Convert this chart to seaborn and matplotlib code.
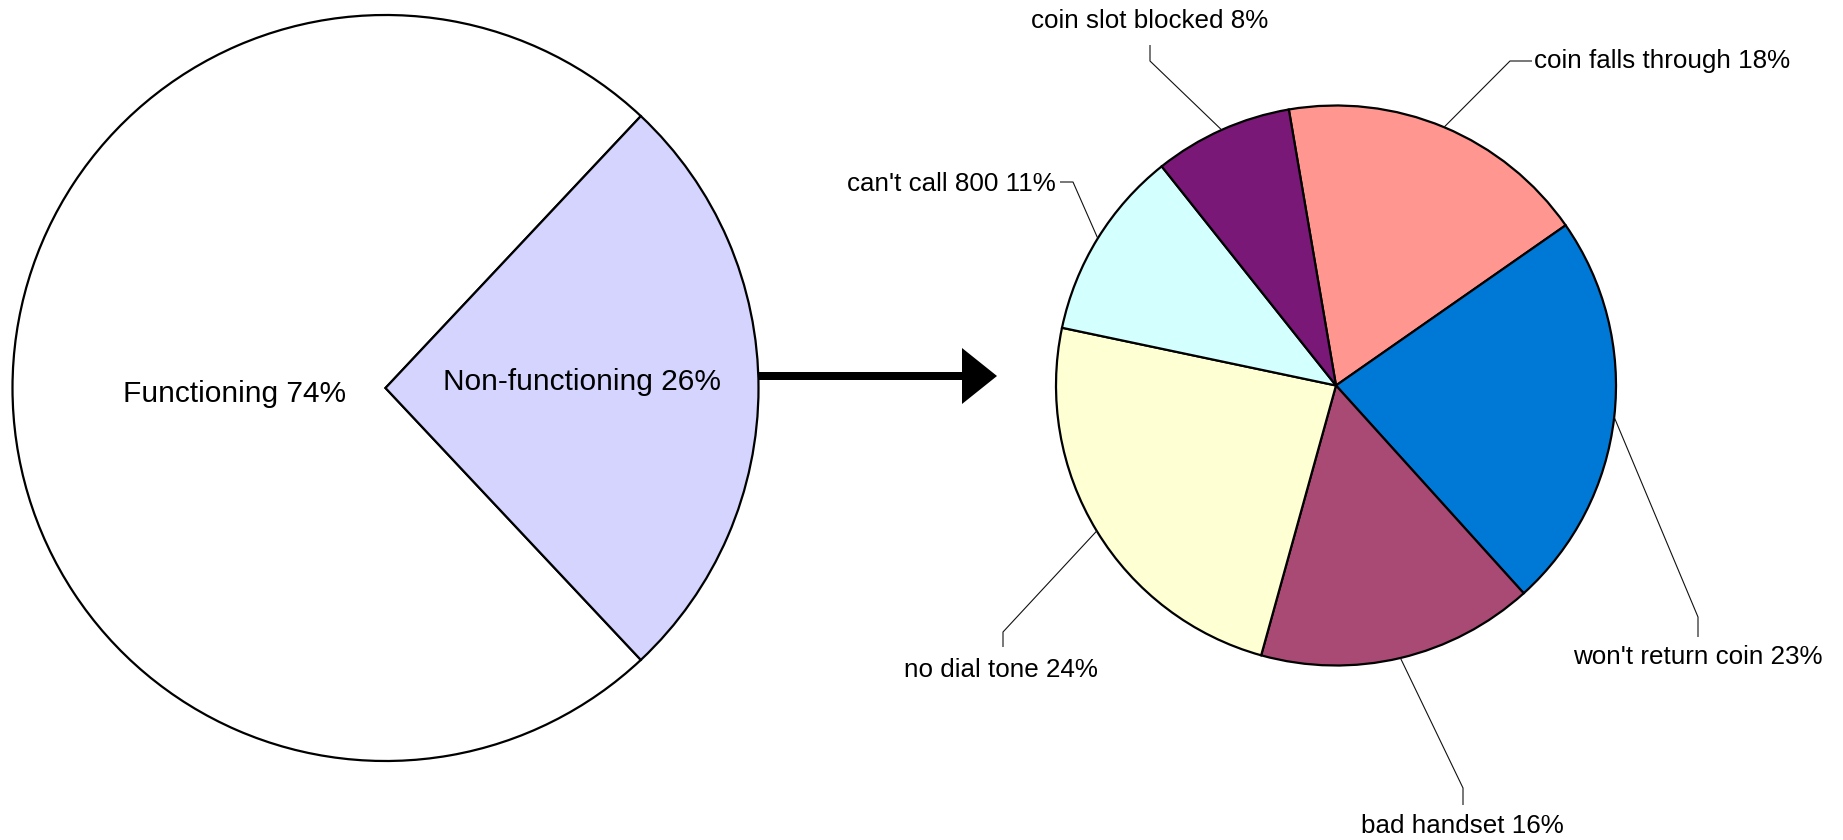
import matplotlib
matplotlib.use("Agg")
import matplotlib.pyplot as plt
import numpy as np
import seaborn as sns
from matplotlib.patches import FancyArrow

# Overall status of the phones
status_labels = ["Functioning", "Non-functioning"]
status_values = [74, 26]
status_colors = ["#FFFFFF", "#D4D4FF"]

# Breakdown of the non-functioning phones (clockwise from the top)
fault_labels = ["coin falls through", "won't return coin", "bad handset",
                "no dial tone", "can't call 800", "coin slot blocked"]
fault_values = [18, 23, 16, 24, 11, 8]
fault_colors = ["#FF9690", "#0079D6", "#A84A74", "#FFFFD4", "#D4FFFF", "#7A1878"]

W, H = 1843, 840


def py(y):
    """Pixel row (from top) to axes y (from bottom)."""
    return H - y


sns.set_theme(style="white")
plt.rcParams["font.family"] = ["Liberation Sans", "DejaVu Sans"]
plt.rcParams["text.color"] = "black"

fig = plt.figure(figsize=(W / 100, H / 100), dpi=100)
ax = fig.add_axes([0, 0, 1, 1])

edge = dict(edgecolor="black", linewidth=1.6)

# Left pie
left_center = (385.5, py(388))
ax.pie(status_values, colors=status_colors, startangle=46.8, counterclock=True,
       center=left_center, radius=373, wedgeprops=edge, frame=True)

left_text_pos = [(235, 394), (582, 382)]
for lab, val, (x, y) in zip(status_labels, status_values, left_text_pos):
    ax.text(x, py(y), f"{lab} {val}%", ha="center", va="center",
            fontsize=21.5, color="black")

# Right pie
right_center = (1336, py(385.5))
right_r = 280
wedges, _ = ax.pie(fault_values, colors=fault_colors, startangle=99.7,
                   counterclock=False, center=right_center, radius=right_r,
                   wedgeprops=edge, frame=True)

# label layout: text position, alignment, elbow start, elbow end (pixel coords)
label_layout = [
    ((1534, 61), "left", (1532, 61), (1510, 61)),
    ((1698, 657), "center", (1698, 637), (1698, 617)),
    ((1462, 826), "center", (1463, 805), (1463, 788)),
    ((1001, 670), "center", (1003, 647), (1003, 632)),
    ((1056, 184), "right", (1060, 182), (1073, 182)),
    ((1150, 21), "center", (1150, 45), (1150, 61)),
]

for w, lab, val, (tpos, ha, p1, p2) in zip(wedges, fault_labels, fault_values,
                                           label_layout):
    mid = np.deg2rad((w.theta1 + w.theta2) / 2)
    ex = right_center[0] + right_r * np.cos(mid)
    ey = right_center[1] + right_r * np.sin(mid)
    ax.plot([p1[0], p2[0], ex], [py(p1[1]), py(p2[1]), ey],
            color="#111111", lw=0.8, solid_capstyle="butt")
    ax.text(tpos[0], py(tpos[1]), f"{lab} {val}%", ha=ha, va="center",
            fontsize=18.7, color="black")

# Arrow between pies
ax.add_patch(FancyArrow(758, py(376), 239, 0, width=8, head_width=56,
                        head_length=35, length_includes_head=True,
                        color="black", lw=0))

ax.set_xlim(0, W)
ax.set_ylim(0, H)
ax.set_aspect("equal")
ax.axis("off")

fig.savefig("out.png", dpi=100, facecolor="white")
